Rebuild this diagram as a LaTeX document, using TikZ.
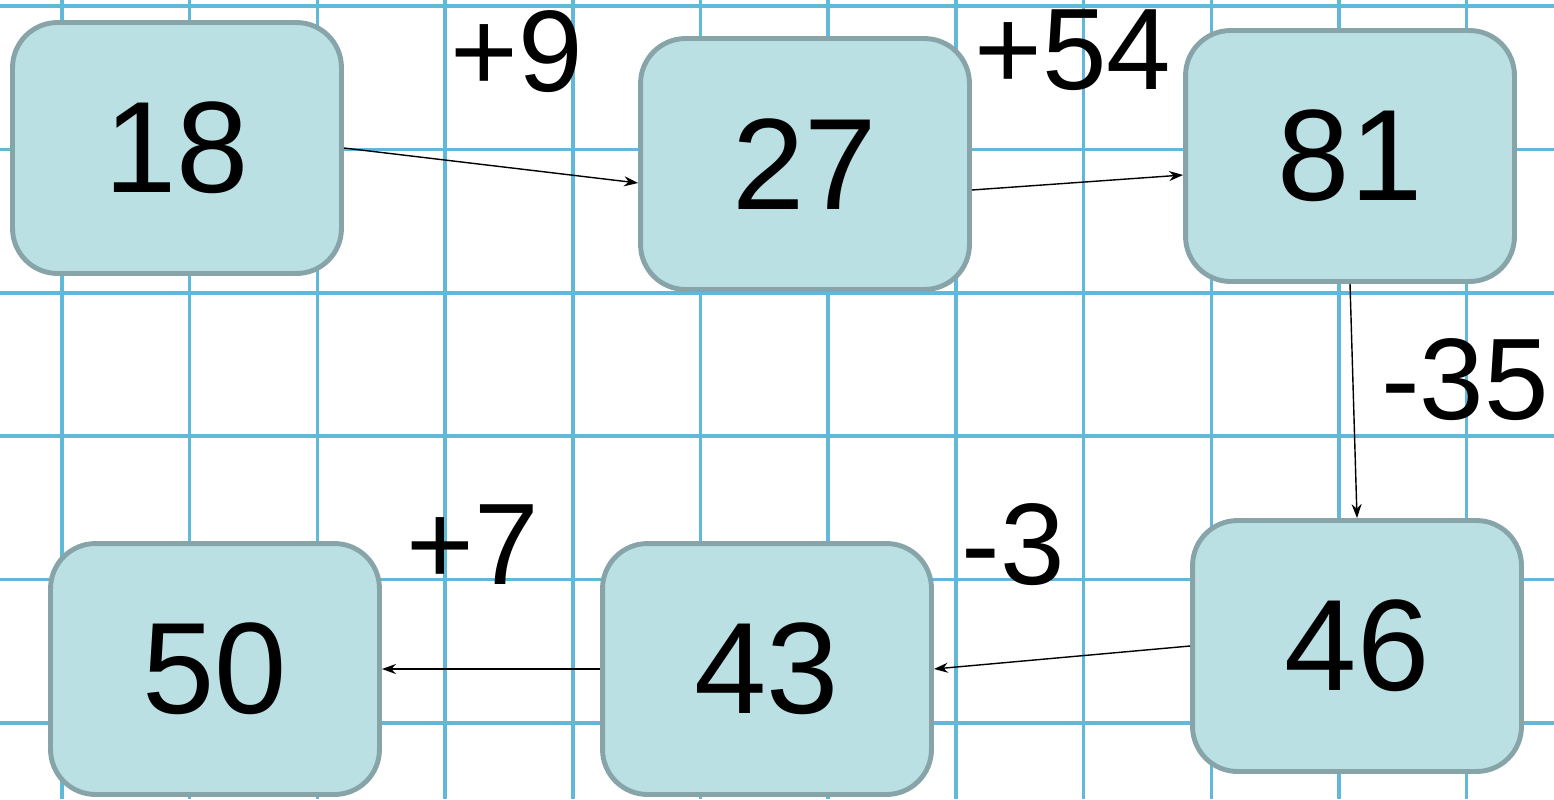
\documentclass[tikz,border=0pt]{standalone}
\usepackage{fontspec}
\setmainfont{Liberation Sans}
\usepackage{tikz}
\usetikzlibrary{arrows.meta,positioning}
\usepackage{xcolor}
\definecolor{gridblue}{RGB}{98,184,216}
\definecolor{boxfill}{RGB}{186,224,227}
\definecolor{boxline}{RGB}{135,165,168}

\begin{document}
\begin{tikzpicture}[
    x=0.02cm, y=-0.02cm,
    box/.style={rectangle, draw=boxline, fill=boxfill, line width=2.8pt, rounded corners=0.9cm, minimum width=6.58cm, minimum height=5.02cm, font=\fontsize{74}{80}\selectfont},
    lbl/.style={inner sep=0pt, font=\fontsize{66}{70}\selectfont},
    arr/.style={-{Stealth[length=0.28cm, width=0.2cm]}, line width=0.8pt},
    gridline/.style={draw=gridblue, line width=2pt}
]
\useasboundingbox (0,0) rectangle (1554,799);

% Grid
\foreach \gx in {0,...,11}
    \draw[gridline] ({62+127.7*\gx},0) -- ({62+127.7*\gx},799);
\foreach \gy in {0,...,5}
    \draw[gridline] (0,{6+143.4*\gy}) -- (1554,{6+143.4*\gy});

% Top row
\node[box] (n18) at (177, 148) {18};
\node[box] (n27) at (805, 164) {27};
\node[box] (n81) at (1350, 156) {81};

% Bottom row
\node[box] (n46) at (1357, 646) {46};
\node[box] (n43) at (767, 669) {43};
\node[box] (n50) at (215, 669) {50};

% Steps
\node[lbl] (l9) at (517, 52) {+9};
\node[lbl] (l54) at (1073, 50) {+54};
\node[lbl] (l35) at (1465, 380) {-35};
\node[lbl] (l3) at (1013, 545) {-3};
\node[lbl] (l7) at (473, 545) {+7};

% Arrows
\draw[arr] (n18.east) -- ([yshift=-0.38cm]n27.west);
\draw[arr] ([yshift=-0.52cm]n27.east) -- ([yshift=-0.38cm]n81.west);
\draw[arr] (n81.south) -- (n46.north);
\draw[arr] (n46.west) -- (n43.east);
\draw[arr] (n43.west) -- (n50.east);

\end{tikzpicture}
\end{document}
